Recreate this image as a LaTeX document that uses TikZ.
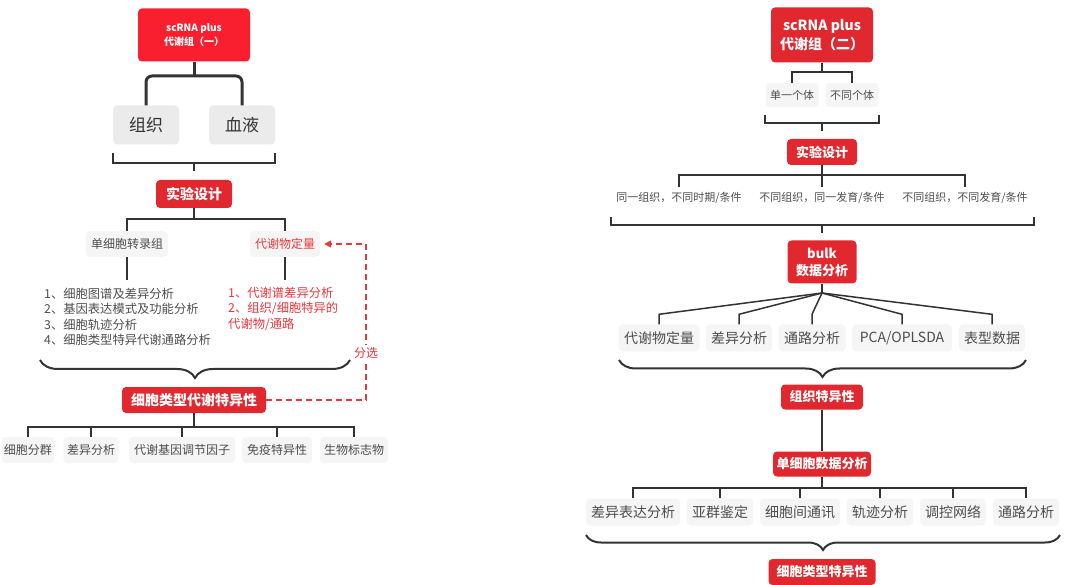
\documentclass[tikz,border=0pt]{standalone}
\usepackage{fontspec}
\setmainfont{Noto Sans CJK SC}
\usepackage{xcolor}
\usepackage{tikz}
\usetikzlibrary{arrows.meta,decorations.pathreplacing,calc}

\definecolor{hotred}{HTML}{F91F2F}
\definecolor{boxred}{HTML}{E0282E}
\definecolor{linered}{HTML}{E8383D}
\definecolor{darkline}{HTML}{333333}
\definecolor{textgray}{HTML}{4D4D4D}
\definecolor{lightbox}{HTML}{F5F5F5}
\definecolor{midbox}{HTML}{EBEBEB}

\newcommand{\fsz}[2]{\fontsize{#1}{#2}\selectfont}

\begin{document}
\begin{tikzpicture}[x=1pt, y=-1pt, every node/.style={inner sep=0pt},
    redbox/.style={fill=boxred, text=white, rounded corners=4pt, align=center},
    graybox/.style={fill=lightbox, text=textgray, rounded corners=4pt, align=center},
    link/.style={draw=darkline, line width=1.5pt},
    curly/.style={draw=darkline, line width=2pt, decorate, decoration={brace, mirror, amplitude=#1}}]
    \useasboundingbox (0,0) rectangle (1066,585);

    % ---------- part one ----------
    \node[redbox, fill=hotred, minimum width=112, minimum height=53, font=\bfseries\fsz{10}{14}] (top1) at (194,35) {scRNA plus\\代谢组（一）};
    \node[graybox, fill=midbox, minimum width=66, minimum height=39, font=\fsz{17}{20}, text=darkline] (tissue) at (146,125) {组织};
    \node[graybox, fill=midbox, minimum width=66, minimum height=39, font=\fsz{17}{20}, text=darkline] (blood) at (242,125) {血液};
    \coordinate (j1) at (194,76);
    \draw[darkline, line width=3pt] (top1.south) -- (j1);
    \draw[darkline, line width=3pt, rounded corners=6pt] (tissue.north) |- (j1) -| (blood.north);

    % bracket
    \coordinate (brk1) at (194,163);
    \draw[link] (113,153) |- (brk1) -| (275,153);
    \draw[link] (brk1) -- ++(0,8);

    \node[redbox, minimum width=76, minimum height=28, font=\bfseries\fsz{14}{17}] (design1) at (194,194) {实验设计};
    \node[graybox, minimum width=82, minimum height=26, font=\fsz{12}{14}] (sc) at (127,244) {单细胞转录组};
    \node[graybox, minimum width=70, minimum height=26, font=\fsz{12}{14}, text=linered] (met) at (285,244) {代谢物定量};
    \coordinate (j2) at (194,219);
    \draw[link] (design1.south) -- (j2);
    \draw[link] (sc.north) |- (j2) -| (met.north);

    % lists
    \node[anchor=north west, align=left, font=\fsz{12.3}{15.4}, text=textgray] (scList) at (44,288) {1、细胞图谱及差异分析\\2、基因表达模式及功能分析\\3、细胞轨迹分析\\4、细胞类型特异代谢通路分析};
    \node[anchor=north west, align=left, font=\fsz{12.3}{15.4}, text=linered] (metList) at (228,287) {1、代谢谱差异分析\\2、组织/细胞特异的\\代谢物/通路};
    \draw[link] (sc.south) -- ++(0,23);
    \draw[link] (met.south) -- ++(0,23);

    \draw[curly=18pt] (40,360) -- (350,360);

    \node[redbox, minimum width=144, minimum height=26, font=\bfseries\fsz{14}{17}] (cell1) at (194,400) {细胞类型代谢特异性};

    % sorting loop
    \draw[linered, line width=1.5pt, dash pattern=on 6pt off 4pt, -{Triangle[length=7pt,width=7pt]}, shorten >=4pt]
        (cell1.east) -- ++(100,0) |- (met.east);
    \node[fill=white, inner sep=2pt, text=linered, font=\fsz{12}{14}] (sortlbl) at (366,353) {分选};

    % outputs
    \node[graybox, minimum width=53, minimum height=26, font=\fsz{12}{14}] (o1) at (28,450) {细胞分群};
    \node[graybox, minimum width=55, minimum height=26, font=\fsz{12}{14}] (o2) at (91,450) {差异分析};
    \node[graybox, minimum width=106, minimum height=26, font=\fsz{12}{14}] (o3) at (182,450) {代谢基因调节因子};
    \node[graybox, minimum width=70, minimum height=26, font=\fsz{12}{14}] (o4) at (277,450) {免疫特异性};
    \node[graybox, minimum width=68, minimum height=26, font=\fsz{12}{14}] (o5) at (354,450) {生物标志物};
    \coordinate (j3) at (194,427);
    \draw[link] (cell1.south) -- (j3);
    \draw[link] (o1.north) |- (j3) -| (o5.north);
    \foreach \o in {o2,o3,o4}
        \draw[link] (\o.north) -- (\o.north |- j3);

    % ---------- part two ----------
    \node[redbox, minimum width=102, minimum height=55, font=\bfseries\fsz{14}{19}] (top2) at (822,35) {scRNA plus\\代谢组（二）};
    \node[graybox, minimum width=53, minimum height=24, font=\fsz{11}{13}] (one) at (792,95) {单一个体};
    \node[graybox, minimum width=53, minimum height=24, font=\fsz{11}{13}] (many) at (852,95) {不同个体};
    \coordinate (j4) at (822,72);
    \draw[link] (top2.south) -- (j4);
    \draw[link] (one.north) |- (j4) -| (many.north);

    \coordinate (brk2) at (822,123);
    \draw[link] (765,115) |- (brk2) -| (879,115);
    \draw[link] (brk2) -- ++(0,8);

    \node[redbox, minimum width=70, minimum height=26, font=\bfseries\fsz{13}{16}] (design2) at (822,152) {实验设计};
    \node[minimum height=21, font=\fsz{11}{13}, text=textgray] (cond1) at (679,197.5) {同一组织，不同时期/条件};
    \node[minimum height=21, font=\fsz{11}{13}, text=textgray] (cond2) at (822,197.5) {不同组织，同一发育/条件};
    \node[minimum height=21, font=\fsz{11}{13}, text=textgray] (cond3) at (965,197.5) {不同组织，不同发育/条件};
    \coordinate (j5) at (822,175);
    \draw[link] (design2.south) -- (j5);
    \draw[link] (cond1.north) |- (j5) -| (cond3.north);
    \draw[link] (cond2.north) -- (j5);

    \coordinate (brk3) at (822,225);
    \draw[link] (611,217) |- (brk3) -| (1034,217);
    \draw[link] (brk3) -- ++(0,8);

    \node[redbox, minimum width=69, minimum height=43, font=\bfseries\fsz{13}{17}] (bulk) at (822,262) {bulk\\数据分析};
    \node[graybox, minimum width=81, minimum height=27, font=\fsz{14}{16}] (b1) at (659,338) {代谢物定量};
    \node[graybox, minimum width=66, minimum height=27, font=\fsz{14}{16}] (b2) at (739,338) {差异分析};
    \node[graybox, minimum width=67, minimum height=27, font=\fsz{14}{16}] (b3) at (812,338) {通路分析};
    \node[graybox, minimum width=100, minimum height=27, font=\fsz{14}{16}] (b4) at (902,338) {PCA/OPLSDA};
    \node[graybox, minimum width=66, minimum height=27, font=\fsz{14}{16}] (b5) at (992,338) {表型数据};
    \coordinate (j6) at (822,293);
    \draw[link] (bulk.south) -- (j6);
    \foreach \b in {b1,b2,b3,b4,b5}
        \draw[link] (j6) -- ($(\b.north)+(0,-10)$) -- (\b.north);

    \draw[curly=17pt] (619,360) -- (1026,360);

    \node[redbox, minimum width=82, minimum height=25, font=\bfseries\fsz{13}{16}] (tspec) at (822,397) {组织特异性};
    \node[redbox, minimum width=98, minimum height=25, font=\bfseries\fsz{13}{16}] (scana) at (822,464) {单细胞数据分析};
    \draw[link] (tspec.south) -- (scana.north);

    \node[graybox, minimum width=94, minimum height=27, font=\fsz{14}{16}] (s1) at (633,512) {差异表达分析};
    \node[graybox, minimum width=66, minimum height=27, font=\fsz{14}{16}] (s2) at (720,512) {亚群鉴定};
    \node[graybox, minimum width=80, minimum height=27, font=\fsz{14}{16}] (s3) at (800,512) {细胞间通讯};
    \node[graybox, minimum width=66, minimum height=27, font=\fsz{14}{16}] (s4) at (880,512) {轨迹分析};
    \node[graybox, minimum width=66, minimum height=27, font=\fsz{14}{16}] (s5) at (953,512) {调控网络};
    \node[graybox, minimum width=66, minimum height=27, font=\fsz{14}{16}] (s6) at (1026,512) {通路分析};
    \coordinate (j7) at (822,488);
    \draw[link] (scana.south) -- (j7);
    \draw[link] (s1.north) |- (j7) -| (s6.north);
    \foreach \s in {s2,s3,s4,s5}
        \draw[link] (\s.north) -- (\s.north |- j7);

    \draw[curly=15pt] (586,535) -- (1060,535);

    \node[redbox, minimum width=107, minimum height=26, font=\bfseries\fsz{13}{16}] (cell2) at (822,572) {细胞类型特异性};
\end{tikzpicture}
\end{document}
